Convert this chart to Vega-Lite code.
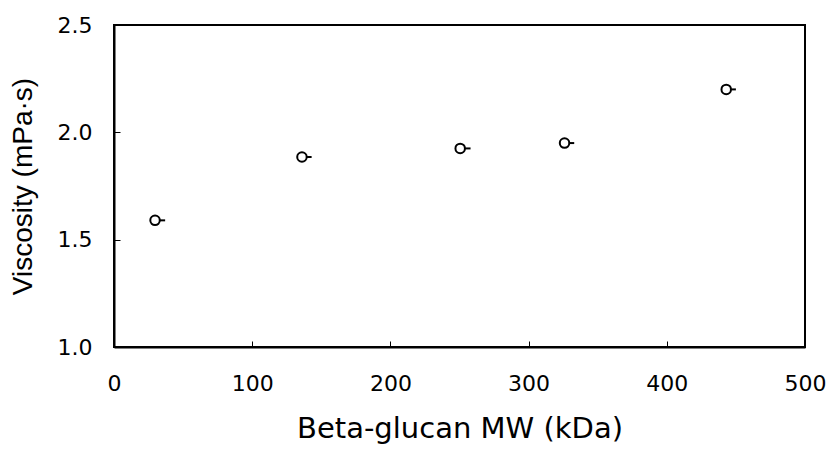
{
  "$schema": "https://vega.github.io/schema/vega-lite/v6.json",
  "autosize": "none",
  "padding": {"left": 114, "top": 25, "right": 26, "bottom": 104},
  "width": 691,
  "height": 322,
  "background": "white",
  "config": {
    "view": {"stroke": "black", "strokeWidth": 2},
    "font": "DejaVu Sans",
    "axis": {
      "grid": false,
      "domain": true,
      "domainColor": "black",
      "domainWidth": 2,
      "tickColor": "black",
      "tickSize": -6,
      "tickWidth": 1,
      "labelColor": "black",
      "titleColor": "black",
      "labelFont": "DejaVu Sans",
      "labelFontSize": 22,
      "labelFlush": false,
      "titleFontWeight": "normal"
    }
  },
  "data": {
    "values": [
      {"mw": 29.7, "visc": 1.59, "mw_hi": 37},
      {"mw": 136, "visc": 1.885, "mw_hi": 143},
      {"mw": 250.5, "visc": 1.925, "mw_hi": 258},
      {"mw": 326, "visc": 1.95, "mw_hi": 333},
      {"mw": 443, "visc": 2.2, "mw_hi": 450}
    ]
  },
  "layer": [
    {
      "mark": {"type": "rule", "color": "black", "strokeWidth": 2},
      "encoding": {
        "x": {"field": "mw", "type": "quantitative"},
        "x2": {"field": "mw_hi"},
        "y": {"field": "visc", "type": "quantitative"}
      }
    },
    {
      "mark": {"type": "point", "shape": "circle", "filled": false, "fill": "white", "fillOpacity": 1, "stroke": "black", "strokeWidth": 2, "size": 90, "opacity": 1},
      "encoding": {
        "x": {
          "field": "mw", "type": "quantitative",
          "scale": {"domain": [0, 500], "nice": false, "zero": false},
          "axis": {"values": [0, 100, 200, 300, 400, 500], "labelPadding": 32, "titlePadding": 20, "title": "Beta-glucan MW (kDa)", "titleFont": "DejaVu Sans", "titleFontSize": 29, "format": "d"}
        },
        "y": {
          "field": "visc", "type": "quantitative",
          "scale": {"domain": [1.0, 2.5], "nice": false, "zero": false},
          "axis": {"values": [1.0, 1.5, 2.0, 2.5], "format": ".1f", "labelPadding": 28, "titlePadding": 20, "title": "Viscosity (mPa·s)", "titleFont": "Liberation Sans", "titleFontSize": 28}
        }
      }
    }
  ]
}
